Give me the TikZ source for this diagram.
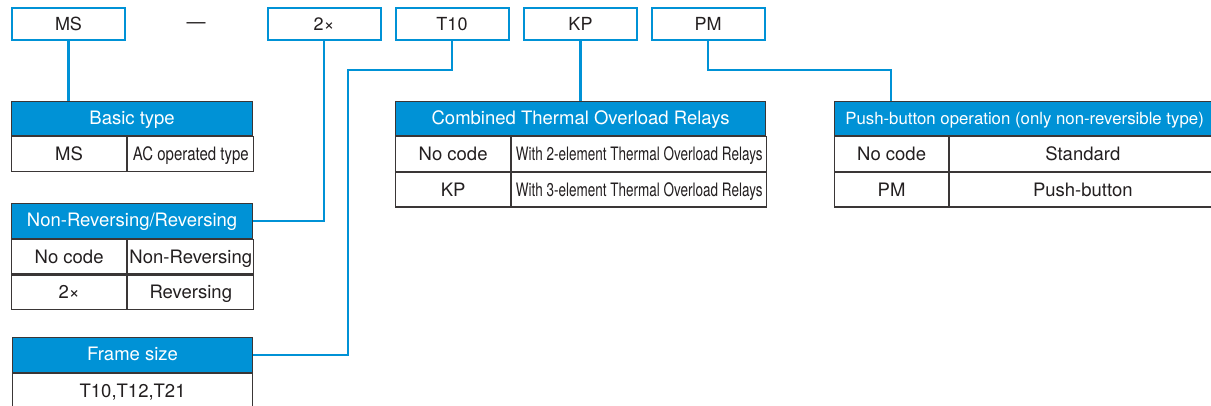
\documentclass[tikz,border=0pt]{standalone}
\usepackage{fontspec}
\setmainfont{TeX Gyre Heros}
\usepackage{graphicx}
\usetikzlibrary{positioning, calc}
\definecolor{mcblue}{RGB}{0,146,214}
\definecolor{gridgray}{RGB}{58,54,54}
\definecolor{inkgray}{RGB}{35,31,32}
\newcommand{\squeeze}[2]{\scalebox{#1}[1]{#2}}
\tikzset{
  codebox/.style={draw=mcblue, line width=2pt, fill=white, minimum width=113pt, minimum height=32pt,
    inner sep=0pt, text height=13pt, text depth=0pt, font=\fontsize{18}{20}\selectfont, text=inkgray}
}
\tikzset{
  headcell/.style={draw=gridgray, line width=1.2pt, fill=mcblue, text=white, inner sep=0pt,
    minimum height=34.5pt, text height=12pt, text depth=0pt, anchor=north west, font=\fontsize{18.5}{20}\selectfont},
  bodycell/.style={draw=gridgray, line width=1.2pt, fill=white, text=inkgray, inner sep=0pt,
    minimum height=34.5pt, text height=13pt, text depth=0pt, anchor=north west, font=\fontsize{18.5}{20}\selectfont}
}
\tikzset{
  link/.style={draw=mcblue, line width=2.5pt}
}

\begin{document}
\begin{tikzpicture}[x=1pt, y=-1pt]
  \useasboundingbox (0,0) rectangle (1211,405);
  % code boxes
  \node[codebox] (MS) at (68.5,24) {MS};
  \node[font=\fontsize{19}{20}\selectfont, text=inkgray, inner sep=0pt] (dash) at (196,26) {—};
  \node[codebox] (rev) at (324,24) {2×};
  \node[codebox] (T10) at (452,24) {T10};
  \node[codebox] (KP) at (580.5,24) {KP};
  \node[codebox] (PM) at (708,24) {PM};

  % basic type
  \node[headcell, minimum width=241pt] (basic) at (11,100.5) {Basic type};
  \node[bodycell, minimum width=115pt] (basicA) at (basic.south west) {MS};
  \node[bodycell, minimum width=126pt] (basicB) at (basicA.north east) {\squeeze{0.81}{AC operated type}};

  % non-reversing / reversing
  \node[headcell, minimum width=241pt] (nonrev) at (11,203) {Non-Reversing/Reversing};
  \node[bodycell, minimum width=115pt] (nonrevA) at (nonrev.south west) {No code};
  \node[bodycell, minimum width=126pt] (nonrevB) at (nonrevA.north east) {Non-Reversing};
  \node[bodycell, minimum width=115pt] (nonrevC) at (nonrevA.south west) {2×};
  \node[bodycell, minimum width=126pt] (nonrevD) at (nonrevC.north east) {Reversing};

  % frame size
  \node[headcell, minimum width=240pt] (frame) at (12,337) {Frame size};
  \node[bodycell, minimum width=240pt] (frameA) at (frame.south west) {T10,T12,T21};

  % thermal overload relays
  \node[headcell, minimum width=370pt] (thermal) at (395,100.5) {Combined Thermal Overload Relays};
  \node[bodycell, minimum width=115pt] (thermalA) at (thermal.south west) {No code};
  \node[bodycell, minimum width=255pt] (thermalB) at (thermalA.north east) {\squeeze{0.73}{With 2-element Thermal Overload Relays}};
  \node[bodycell, minimum width=115pt] (thermalC) at (thermalA.south west) {KP};
  \node[bodycell, minimum width=255pt] (thermalD) at (thermalC.north east) {\squeeze{0.73}{With 3-element Thermal Overload Relays}};

  % push-button
  \node[headcell, minimum width=380pt, font=\fontsize{16.8}{20}\selectfont] (push) at (834,100.5) {Push-button operation (only non-reversible type)};
  \node[bodycell, minimum width=114pt] (pushA) at (push.south west) {No code};
  \node[bodycell, minimum width=266pt] (pushB) at (pushA.north east) {Standard};
  \node[bodycell, minimum width=114pt] (pushC) at (pushA.south west) {PM};
  \node[bodycell, minimum width=266pt] (pushD) at (pushC.north east) {Push-button};

  % connectors
  \coordinate (bendA) at (348,70);
  \coordinate (bendB) at (891,70);
  \draw[link] (MS.south) -- (MS.south |- basic.north);
  \draw[link] (rev.south) |- (nonrev.east);
  \draw[link] (T10.south) |- (bendA) |- (frame.east);
  \draw[link] (KP.south) -- (KP.south |- thermal.north);
  \draw[link] (PM.south) |- (bendB) -- (bendB |- push.north);
\end{tikzpicture}
\end{document}
